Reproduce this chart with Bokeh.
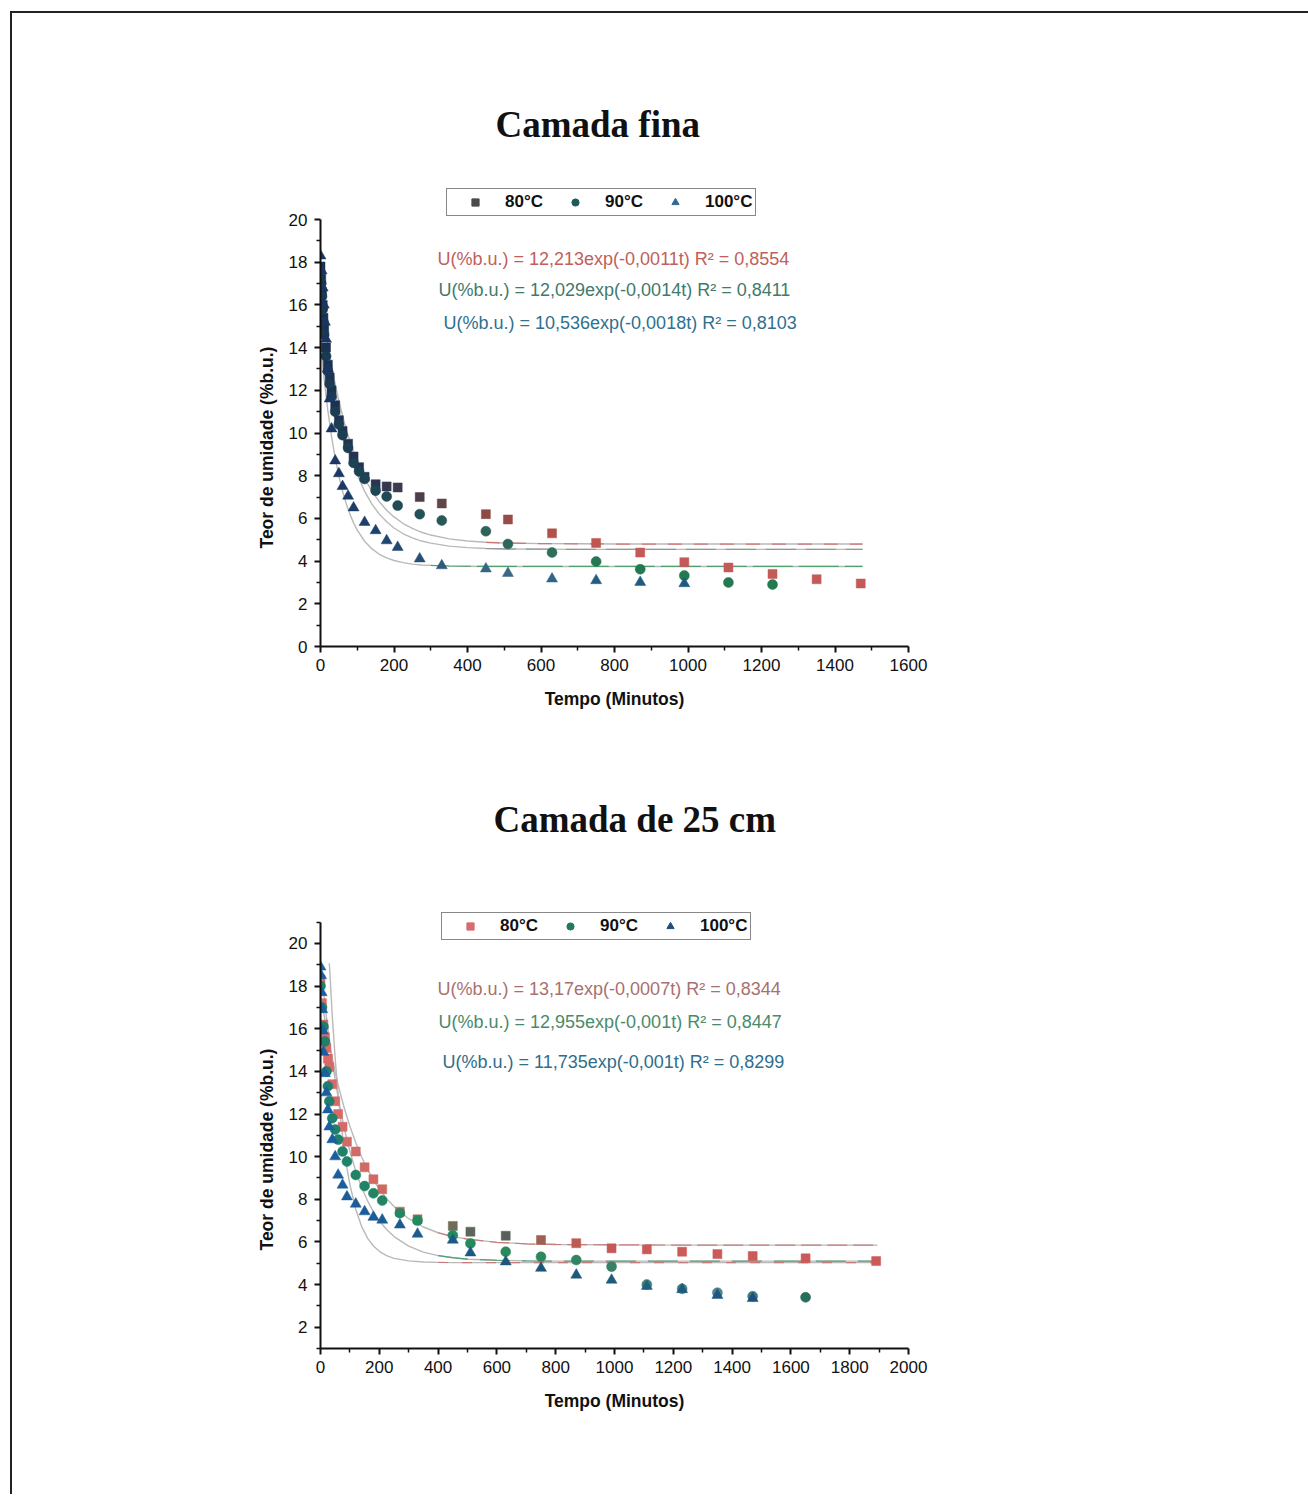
from bokeh.plotting import figure
from bokeh.models import Range1d, FixedTicker, Label, Legend, LegendItem, ColumnDataSource, Title
from bokeh.transform import linear_cmap
from bokeh.layouts import column
from bokeh.embed import file_html
from bokeh.resources import INLINE

# ---------------- data: "Camada fina" ----------------
t80_fina = [0, 2, 4, 6, 8, 10, 15, 20, 25, 30, 40, 50, 60, 75, 90, 105, 120, 150, 180, 210, 270, 330,
            450, 510, 630, 750, 870, 990, 1110, 1230, 1350, 1470]
u80_fina = [17.8, 17.2, 16.6, 16.0, 15.4, 14.9, 14.0, 13.2, 12.6, 12.0, 11.3, 10.6, 10.1, 9.5, 8.9, 8.4,
            7.95, 7.6, 7.5, 7.45, 7.0, 6.7, 6.2, 5.95, 5.3, 4.85, 4.4, 3.95, 3.7, 3.4, 3.15, 2.95]
t90_fina = [0, 2, 4, 6, 8, 10, 15, 20, 25, 30, 40, 50, 60, 75, 90, 105, 120, 150, 180, 210, 270, 330,
            450, 510, 630, 750, 870, 990, 1110, 1230]
u90_fina = [17.5, 17.0, 16.4, 15.8, 15.2, 14.6, 13.6, 12.9, 12.3, 11.7, 11.0, 10.4, 9.9, 9.3, 8.6, 8.2,
            7.85, 7.3, 7.03, 6.6, 6.2, 5.9, 5.4, 4.8, 4.4, 3.98, 3.62, 3.32, 3.0, 2.9]
t100_fina = [0, 3, 6, 9, 12, 15, 20, 25, 30, 40, 50, 60, 75, 90, 120, 150, 180, 210, 270, 330,
             450, 510, 630, 750, 870, 990]
u100_fina = [18.3, 17.6, 16.8, 16.0, 15.2, 14.4, 13.0, 11.6, 10.2, 8.7, 8.1, 7.5, 7.05, 6.5, 5.82, 5.43,
             4.96, 4.65, 4.11, 3.79, 3.64, 3.43, 3.17, 3.09, 3.01, 2.95]

fit_t_fina = [0, 10, 20, 30, 40, 50, 60, 70, 80, 90, 100, 120, 140, 160, 180, 200, 225, 250, 275, 300,
              350, 400, 450, 500, 600, 700, 800, 1000, 1200, 1475]
fit80_fina = [16.5, 15.27, 14.17, 13.18, 12.30, 11.51, 10.81, 10.18, 9.61, 9.10, 8.65, 7.88, 7.27, 6.78,
              6.38, 6.07, 5.76, 5.53, 5.35, 5.22, 5.04, 4.94, 4.88, 4.85, 4.82, 4.81, 4.8, 4.8, 4.8, 4.8]
fit90_fina = [16.75, 15.32, 14.05, 12.94, 11.95, 11.08, 10.31, 9.64, 9.04, 8.51, 8.05, 7.27, 6.67, 6.20,
              5.84, 5.55, 5.28, 5.09, 4.94, 4.84, 4.70, 4.63, 4.59, 4.57, 4.56, 4.55, 4.55, 4.55, 4.55, 4.55]
fit100_fina = [14.25, 12.50, 11.05, 9.84, 8.82, 7.98, 7.28, 6.69, 6.20, 5.79, 5.45, 4.93, 4.57, 4.32,
               4.15, 4.03, 3.93, 3.86, 3.82, 3.80, 3.77, 3.76, 3.75, 3.75, 3.75, 3.75, 3.75, 3.75, 3.75, 3.75]

# ---------------- data: "Camada de 25 cm" ----------------
t80_25 = [0, 5, 10, 15, 20, 25, 30, 40, 50, 60, 75, 90, 120, 150, 180, 210, 270, 330, 450, 510, 630,
          750, 870, 990, 1110, 1230, 1350, 1470, 1650, 1890]
u80_25 = [18.3, 17.2, 16.2, 15.6, 15.1, 14.6, 14.2, 13.4, 12.6, 12.0, 11.4, 10.7, 10.24, 9.5, 8.94, 8.47,
          7.42, 7.06, 6.75, 6.48, 6.29, 6.09, 5.94, 5.7, 5.65, 5.54, 5.43, 5.34, 5.23, 5.1]
t90_25 = [0, 5, 10, 15, 20, 25, 30, 40, 50, 60, 75, 90, 120, 150, 180, 210, 270, 330, 450, 510, 630,
          750, 870, 990, 1110, 1230, 1350, 1470, 1650]
u90_25 = [18.0, 17.0, 16.1, 15.4, 14.0, 13.3, 12.6, 11.8, 11.27, 10.8, 10.24, 9.77, 9.14, 8.62, 8.28, 7.94,
          7.35, 7.0, 6.31, 5.93, 5.54, 5.3, 5.15, 4.84, 4.0, 3.8, 3.62, 3.45, 3.4]
t100_25 = [0, 2, 4, 6, 8, 10, 15, 20, 25, 30, 40, 50, 60, 75, 90, 120, 150, 180, 210, 270, 330, 450, 510,
           630, 750, 870, 990, 1110, 1230, 1350, 1470]
u100_25 = [18.9, 18.5, 17.7, 16.9, 15.9, 14.9, 13.9, 13.0, 12.2, 11.4, 10.8, 10.0, 9.14, 8.67, 8.12, 7.78,
           7.42, 7.16, 7.03, 6.8, 6.37, 6.09, 5.49, 5.07, 4.77, 4.45, 4.21, 3.92, 3.77, 3.5, 3.35]

fit_t_25 = [0, 10, 20, 30, 40, 50, 60, 70, 80, 90, 100, 120, 140, 160, 180, 200, 225, 250, 300, 350,
            400, 450, 500, 600, 700, 800, 1000, 1300, 1600, 1895]
fit80_25 = [17.68, 16.82, 16.03, 15.29, 14.61, 13.97, 13.38, 12.84, 12.33, 11.86, 11.43, 10.65, 9.98, 9.40,
            8.91, 8.48, 8.03, 7.66, 7.09, 6.70, 6.43, 6.25, 6.13, 5.98, 5.91, 5.88, 5.86, 5.85, 5.85, 5.85]
fit90_25 = [19.1, 17.77, 16.56, 15.47, 14.48, 13.59, 12.78, 12.05, 11.39, 10.79, 10.25, 9.32, 8.55, 7.93,
            7.41, 6.99, 6.58, 6.25, 5.80, 5.52, 5.36, 5.26, 5.19, 5.14, 5.11, 5.10, 5.1, 5.1, 5.1, 5.1]
fit_t100_25 = [30, 40, 50, 60, 70, 80, 90, 100, 120, 140, 160, 180, 200, 225, 250, 300, 350,
               400, 450, 500, 600, 700, 800, 1000, 1300, 1600, 1895]
fit100_25 = [19.07, 16.62, 14.59, 12.92, 11.54, 10.40, 9.46, 8.69, 7.52, 6.72, 6.18,
             5.81, 5.56, 5.36, 5.23, 5.11, 5.06, 5.04, 5.03, 5.03, 5.03, 5.03, 5.03, 5.03, 5.03, 5.03, 5.03]

legend_labels = ["80\u00b0C", "90\u00b0C", "100\u00b0C"]
eq_fina = ["U(%b.u.) = 12,213exp(-0,0011t) R\u00b2 = 0,8554",
           "U(%b.u.) = 12,029exp(-0,0014t) R\u00b2 = 0,8411",
           "U(%b.u.) = 10,536exp(-0,0018t) R\u00b2 = 0,8103"]
eq_25 = ["U(%b.u.) = 13,17exp(-0,0007t) R\u00b2 = 0,8344",
         "U(%b.u.) = 12,955exp(-0,001t) R\u00b2 = 0,8447",
         "U(%b.u.) = 11,735exp(-0,001t) R\u00b2 = 0,8299"]
x_ticks_fina = [0, 200, 400, 600, 800, 1000, 1200, 1400, 1600]
x_ticks_25 = [0, 200, 400, 600, 800, 1000, 1200, 1400, 1600, 1800, 2000]
y_ticks_fina = [0, 2, 4, 6, 8, 10, 12, 14, 16, 18, 20]
y_ticks_25 = [2, 4, 6, 8, 10, 12, 14, 16, 18, 20]


# ---------------- styling helpers ----------------
def ramp(stops, n=40):
    def h2r(h):
        h = h.lstrip("#")
        return [int(h[i:i + 2], 16) for i in (0, 2, 4)]
    cols = [h2r(s) for s in stops]
    out = []
    for i in range(n):
        f = i / (n - 1) * (len(cols) - 1)
        k = min(int(f), len(cols) - 2)
        r = f - k
        c = [round(cols[k][j] * (1 - r) + cols[k + 1][j] * r) for j in range(3)]
        out.append("#%02x%02x%02x" % tuple(c))
    return out


FONT = "Liberation Sans"
W = 1296


def make_fig(height, btop, bbot, bleft, bright, xr, yr, ybounds, xt, yt,
             title, t_offset, t_standoff, ylab_offset):
    p = figure(width=W, height=height, x_range=Range1d(*xr), y_range=Range1d(*yr),
               output_backend="svg", toolbar_location=None,
               min_border_top=btop, min_border_bottom=bbot,
               min_border_left=bleft, min_border_right=bright)
    p.title = Title(text=title, align="left", offset=t_offset, standoff=t_standoff,
                    text_font="Liberation Serif", text_font_size="37px", text_font_style="bold",
                    text_color="#111111")
    p.xgrid.visible = False
    p.ygrid.visible = False
    p.outline_line_color = None
    p.background_fill_color = "white"
    p.border_fill_color = "white"
    step_x = xt[1] - xt[0]
    p.xaxis.ticker = FixedTicker(ticks=xt, minor_ticks=[v + step_x / 2 for v in xt[:-1]])
    p.yaxis.ticker = FixedTicker(ticks=yt, minor_ticks=[v for v in range(int(ybounds[0]), int(ybounds[1]) + 1) if v % 2])
    p.yaxis.bounds = ybounds
    for ax in (p.xaxis, p.yaxis):
        ax.axis_line_width = 2
        ax.axis_line_color = "#111111"
        ax.major_tick_line_width = 2
        ax.minor_tick_line_width = 1.5
        ax.major_tick_line_color = "#111111"
        ax.minor_tick_line_color = "#111111"
        ax.major_tick_in = 0
        ax.major_tick_out = 6
        ax.minor_tick_in = 0
        ax.minor_tick_out = 4
        ax.major_label_text_font = FONT
        ax.major_label_text_font_size = "17px"
        ax.major_label_text_color = "#111111"
        ax.axis_label_text_font = FONT
        ax.axis_label_text_font_size = "17.5px"
        ax.axis_label_text_font_style = "bold"
        ax.axis_label_text_color = "#111111"
    p.xaxis.major_label_standoff = 6
    p.xaxis.axis_label_standoff = 15
    p.yaxis.major_label_standoff = 7
    p.xaxis.axis_label = "Tempo (Minutos)"
    # y axis title placed as a side title so it can sit beside the 0-20 part of the axis
    p.add_layout(Title(text="Teor de umidade (%b.u.)", align="left", offset=ylab_offset, standoff=18,
                       text_font=FONT, text_font_size="17.5px", text_font_style="bold",
                       text_color="#111111"), "left")
    return p


def add_fit(p, t, u, overlay_color, dash, start):
    p.line(t, u, line_color="#b9b9b9", line_width=1.4)
    i0 = next(i for i, v in enumerate(t) if v >= start)
    p.line(t[i0:], u[i0:], line_color=overlay_color, line_width=1.2, line_dash=dash, line_alpha=0.85)


def add_points(p, t, u, marker, size, palette, high):
    src = ColumnDataSource(dict(t=t, u=u))
    cmap = linear_cmap("t", palette, 0, high)
    p.scatter("t", "u", source=src, marker=marker, size=size,
              fill_color=cmap, line_color=cmap, line_width=0.5)


def add_legend(p, colors, loc):
    rs = []
    nan = float("nan")
    for m, c in zip(["square", "circle", "triangle"], colors):
        rs.append(p.scatter(x=[nan], y=[nan], marker=m, fill_color=c, line_color=c, size=8))
    leg = Legend(items=[LegendItem(label=l, renderers=[r]) for l, r in zip(legend_labels, rs)],
                 orientation="horizontal", location=loc,
                 border_line_color="#111111", border_line_width=1.5,
                 background_fill_color="white", background_fill_alpha=1.0,
                 padding=3, spacing=0, margin=0,
                 glyph_width=50, glyph_height=18, label_standoff=5, label_height=18, label_width=45,
                 label_text_font=FONT, label_text_font_size="17px",
                 label_text_font_style="bold", label_text_color="#111111")
    p.add_layout(leg)


def add_text(p, txt, x, y, color, size):
    p.add_layout(Label(x=x, y=y, x_units="screen", y_units="screen", text=txt,
                       text_font=FONT, text_font_size=size,
                       text_color=color, text_align="left", text_baseline="middle"))


# ---------------- top chart ----------------
# y axis drawn over 0..20 (bounds); the range is a bit taller so the legend sits inside the frame
p1 = make_fig(708, 174, 75, 307, 400, (0, 1600), (0, 21.5), (0, 20), x_ticks_fina, y_ticks_fina,
              "Camada fina", 175, 86, 98)
add_fit(p1, fit_t_fina, fit80_fina, "#d06a6a", "14 12", 450)
add_fit(p1, fit_t_fina, fit90_fina, "#8a8f8f", "30 10", 450)
add_fit(p1, fit_t_fina, fit100_fina, "#3f9a5f", "40 6", 300)
add_points(p1, t80_fina, u80_fina, "square", 9,
           ramp(["#1b3150", "#2b3552", "#5a4448", "#8a4a45", "#b24f4a", "#c25552", "#c45a58"]), 900)
add_points(p1, t90_fina, u90_fina, "circle", 10,
           ramp(["#1a3a52", "#1f4a55", "#2a5a58", "#2f6a5a", "#2a7555", "#237a50"]), 900)
add_points(p1, t100_fina, u100_fina, "triangle", 11,
           ramp(["#1a3560", "#1e4470", "#35607f", "#3b6a85", "#235f80", "#1f5a7f"]), 900)
add_legend(p1, ["#4a4a4a", "#1f5a5a", "#2f6a95"], (126, 430))
for txt, x, y, c in zip(eq_fina, [117, 118, 123], [388, 357, 324], ["#c0605a", "#3f7a6c", "#2f7090"]):
    add_text(p1, txt, x, y, c, "18px")

# ---------------- bottom chart ----------------
p2 = make_fig(773, 190, 146, 308, 400, (0, 2000), (1, 21.5), (1, 21), x_ticks_25, y_ticks_25,
              "Camada de 25 cm", 173, 144, 98)
add_fit(p2, fit_t_25, fit80_25, "#c87070", "20 6", 400)
add_fit(p2, fit_t_25, fit90_25, "#3f9a6a", "30 12", 400)
add_fit(p2, fit_t100_25, fit100_25, "#c87070", "10 14", 400)
add_points(p2, t80_25, u80_25, "square", 9,
           ramp(["#d86a6a", "#cf6a62", "#8a7052", "#3f6060", "#b06050", "#c85858", "#cc5a58"]), 1200)
add_points(p2, t90_25, u90_25, "circle", 10,
           ramp(["#1f7f6a", "#238a5f", "#2b8a5a", "#3a7f6a", "#4f8590", "#1f6a55"]), 1700)
add_points(p2, t100_25, u100_25, "triangle", 11,
           ramp(["#1a5fa0", "#1d5a8a", "#1a5578", "#1f5f82", "#1d5080"]), 1500)
add_legend(p2, ["#d86a70", "#1f7a5f", "#1d4f7a"], (121, 408))
for txt, x, y, c in zip(eq_25, [117, 118, 122], [360, 327, 287], ["#a8706e", "#4a8a6c", "#2f6e8c"]):
    add_text(p2, txt, x, y, c, "18px")

layout = column(p1, p2, margin=(11, 0, 0, 10),
                styles={"border-left": "2px solid #222222", "border-top": "2px solid #222222"})

open("out.html", "w").write(file_html(layout, INLINE))
